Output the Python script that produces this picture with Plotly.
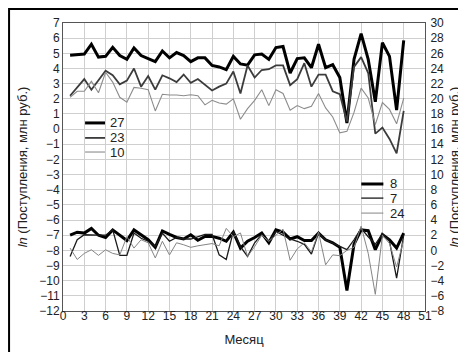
import plotly.graph_objects as go

months = list(range(1, 49))

# upper group (left axis, ln units)
s27 = [4.88, 4.92, 4.95, 5.6, 4.75, 4.8, 5.4, 4.85, 4.6, 5.35,
       4.85, 4.65, 4.45, 5.15, 4.7, 5.05, 4.85, 4.45, 4.7, 4.7,
       4.2, 4.1, 3.92, 4.8, 4.3, 4.22, 4.9, 4.95, 4.6, 5.38,
       5.45, 3.7, 4.65, 4.7, 4.05, 5.6, 4.05, 4.25, 3.4, 0.4,
       4.6, 6.3, 4.6, 1.8, 5.7, 4.8, 1.25, 5.85]
s23 = [2.2, 2.75, 3.3, 2.6, 3.2, 3.85, 3.55, 2.95, 3.2, 4.0,
       2.8, 3.5, 2.6, 3.55, 3.35, 3.1, 3.6, 3.05, 3.3, 2.95,
       2.55, 2.8, 3.0, 3.8, 2.35, 4.2, 3.4, 3.9, 3.95, 4.2,
       4.2, 2.9, 3.3, 4.35, 2.8, 3.6, 3.6, 2.5, 2.3, 0.5,
       4.1, 4.75, 3.7, -0.3, 0.1, -0.65, -1.6, 1.2]
s10 = [2.1, 2.5, 2.5, 3.15, 2.4, 3.75, 3.1, 2.1, 1.78, 2.75,
       2.7, 2.6, 1.2, 2.3, 2.25, 2.25, 2.2, 2.27, 2.2, 1.6,
       1.9, 1.72, 1.65, 2.0, 0.65, 1.35, 1.9, 2.6, 1.55, 2.6,
       2.35, 1.25, 1.55, 1.35, 1.5, 2.35, 1.4, 0.8, -0.25, -0.15,
       1.1, 2.7, 2.05, 0.3, 1.75, 1.3, 0.35, 2.05]

# lower group (right axis units)
s8 = [2.0, 2.4, 2.28, 2.9, 2.0, 1.7, 2.7, 2.06, 1.3, 2.7,
      2.0, 1.4, 0.4, 2.56, 2.1, 1.7, 1.5, 2.06, 1.34, 1.84,
      1.84, 1.6, 1.2, 2.4, 0.3, 1.2, 1.7, 2.28, 1.0, 2.7,
      2.4, 1.5, 1.8, 1.3, 1.3, 2.28, 1.4, 1.0, 0.4, -5.3,
      0.8, 2.7, 2.6, 0.1, 2.1, 1.4, 0.3, 2.28]
s7 = [-0.8, 1.4, 2.06, 2.0, 2.0, 2.0, 2.7, -0.66, -0.66, 2.28,
      1.6, 1.2, 0.5, 2.28, 1.2, 1.7, 1.5, 1.5, 1.8, 2.1,
      2.1, -0.6, -1.2, 2.5, 0.5, -0.8, 1.0, 2.1, 1.2, 2.5,
      2.0, 1.5, 1.2, 0.8, -0.5, 2.3, 1.4, 1.0, 0.6, 0.1,
      1.4, 2.9, 1.8, 0.8, 2.2, 1.2, -3.66, 2.0]
s24 = [0.3, -1.2, -0.4, 0.08, -0.66, 0.08, -0.4, -0.6, 1.8, 0.3,
       1.4, 1.0, -1.0, 1.2, -0.6, 1.0, 0.74, 0.4, 0.6, 0.7,
       0.9, 0.6, 2.9, 1.8, 2.3, -0.8, 0.5, 2.0, 1.2, 2.0,
       2.8, -1.3, 0.2, 1.0, -0.2, 2.4, -1.9, -0.6, -0.7, 0.0,
       0.4, 3.2, -0.4, -5.8, 2.0, 0.9, -2.2, 1.4]

x_ticks = list(range(0, 52, 3))
left_ticks = list(range(-12, 8))
right_ticks = list(range(-8, 31, 2))

FONT = "Liberation Sans, Arial, sans-serif"

upper = [("27", s27, "#000000", 3.0), ("23", s23, "#3c3c3c", 1.8), ("10", s10, "#8c8c8c", 1.1)]
lower = [("8", s8, "#000000", 3.0), ("7", s7, "#1a1a1a", 1.3), ("24", s24, "#858585", 1.0)]

fig = go.Figure()
for name, ys, col, w in upper:
    fig.add_trace(go.Scatter(x=months, y=ys, name=name, mode="lines",
                             line=dict(color=col, width=w), yaxis="y", showlegend=False))
for name, ys, col, w in lower:
    fig.add_trace(go.Scatter(x=months, y=ys, name=name, mode="lines",
                             line=dict(color=col, width=w), yaxis="y2", showlegend=False))

# hand-drawn legends (paper coordinates)
shapes = []
annotations = []
legend_specs = [
    (upper, 0.061, 0.116, 0.124, [0.653, 0.601, 0.552]),
    (lower, 0.824, 0.885, 0.899, [0.441, 0.392, 0.340]),
]
for group, lx0, lx1, tx, ys in legend_specs:
    for (name, _, col, w), yy in zip(group, ys):
        shapes.append(dict(type="line", xref="paper", yref="paper", x0=lx0, x1=lx1,
                           y0=yy, y1=yy, line=dict(color=col, width=w)))
        annotations.append(dict(text=name, xref="paper", yref="paper", x=tx, y=yy,
                                xanchor="left", yanchor="middle", showarrow=False,
                                font=dict(family=FONT, size=13, color="#222222")))

shapes.append(dict(type="rect", xref="paper", yref="paper",
                   x0=-0.149, x1=1.1335, y0=-0.1667, y1=1.0486,
                   line=dict(color="black", width=2)))

axis_common = dict(showline=True, linecolor="#555555", linewidth=1, ticks="",
                   automargin=False, zeroline=False)
tickfont = dict(family=FONT, size=12, color="#222222")

fig.update_layout(
    width=466, height=352,
    margin=dict(l=55, r=49, t=15, b=49),
    paper_bgcolor="white", plot_bgcolor="white",
    font=dict(family=FONT, size=12, color="#222222"),
    xaxis=dict(range=[0, 51], tickvals=x_ticks, showgrid=True, gridcolor="#cfcfcf",
               mirror=True, ticklabelstandoff=-6, tickfont=tickfont,
               title=dict(text="Месяц", font=dict(size=13), standoff=12),
               **axis_common),
    yaxis=dict(range=[-12, 7], tickvals=left_ticks, showgrid=True, gridcolor="#cfcfcf",
               tickfont=tickfont,
               title=dict(text="<i>ln</i> (Поступления, млн руб.)", font=dict(size=13), standoff=8),
               **axis_common),
    yaxis2=dict(range=[-8, 30], tickvals=right_ticks, overlaying="y", side="right",
                showgrid=False, ticklabelstandoff=2, tickfont=tickfont,
                title=dict(text="<i>ln</i> (Поступления, млн руб.)", font=dict(size=13), standoff=6),
                **axis_common),
    showlegend=False,
    shapes=shapes,
    annotations=annotations,
)

fig.write_html("out.html")
